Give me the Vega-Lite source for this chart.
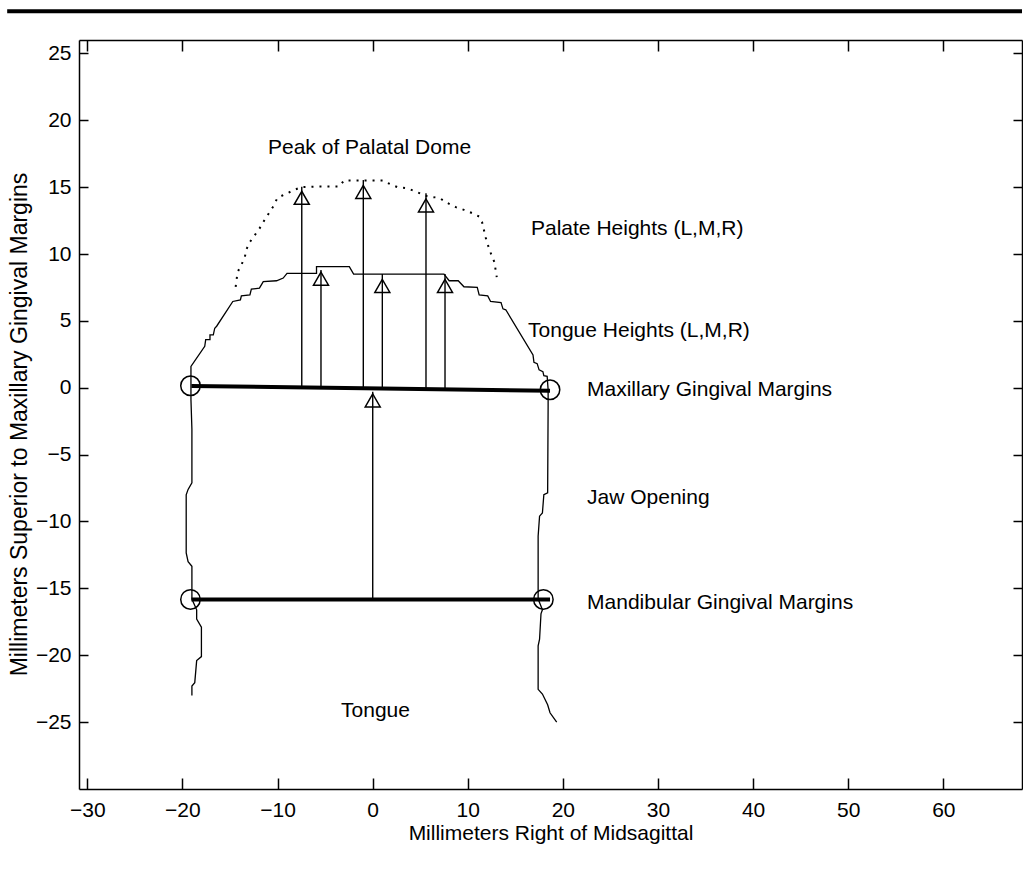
{
  "$schema": "https://vega.github.io/schema/vega-lite/v6.json",
  "width": 943,
  "height": 749,
  "autosize": "none",
  "padding": {"left": 79, "top": 40, "right": 1, "bottom": 81},
  "background": "white",
  "config": {
    "view": {"stroke": null},
    "font": "Liberation Sans",
    "axis": {
      "grid": false,
      "domainColor": "black",
      "domainWidth": 1.5,
      "tickColor": "black",
      "tickWidth": 1.5,
      "labelColor": "black",
      "labelFont": "Liberation Sans",
      "labelFontSize": 21,
      "titleColor": "black",
      "titleFont": "Liberation Sans",
      "titleFontSize": 21,
      "titleFontWeight": "normal",
      "labelFlush": false,
      "labelOverlap": false
    }
  },
  "resolve": {"axis": {"x": "independent", "y": "independent"}},
  "datasets": {
    "contour": [
      {"i": 1, "x": -19.0, "y": -23.0}, {"i": 2, "x": -19.0, "y": -22.3}, {"i": 3, "x": -18.7, "y": -22.05},
      {"i": 4, "x": -18.5, "y": -20.4}, {"i": 5, "x": -18.0, "y": -20.1}, {"i": 6, "x": -18.0, "y": -17.9},
      {"i": 7, "x": -18.5, "y": -17.3}, {"i": 8, "x": -18.5, "y": -16.6}, {"i": 9, "x": -19.0, "y": -15.8},
      {"i": 10, "x": -19.0, "y": -13.35}, {"i": 11, "x": -19.4, "y": -13.0}, {"i": 12, "x": -19.6, "y": -12.35},
      {"i": 13, "x": -19.6, "y": -8.0}, {"i": 14, "x": -19.4, "y": -7.6}, {"i": 15, "x": -19.0, "y": -7.1},
      {"i": 16, "x": -19.0, "y": -3.1}, {"i": 17, "x": -19.1, "y": -0.9}, {"i": 18, "x": -19.1, "y": 0.2},
      {"i": 19, "x": -19.1, "y": 1.6}, {"i": 20, "x": -17.65, "y": 3.1}, {"i": 21, "x": -17.55, "y": 3.6},
      {"i": 22, "x": -17.1, "y": 3.6}, {"i": 23, "x": -17.1, "y": 3.95}, {"i": 24, "x": -16.75, "y": 3.95},
      {"i": 25, "x": -16.6, "y": 4.45}, {"i": 26, "x": -16.4, "y": 4.6}, {"i": 27, "x": -14.7, "y": 6.45},
      {"i": 28, "x": -13.9, "y": 6.57}, {"i": 29, "x": -13.8, "y": 6.87}, {"i": 30, "x": -12.9, "y": 6.95},
      {"i": 31, "x": -12.75, "y": 7.37}, {"i": 32, "x": -11.9, "y": 7.45}, {"i": 33, "x": -11.5, "y": 7.94},
      {"i": 34, "x": -10.1, "y": 8.0}, {"i": 35, "x": -9.4, "y": 8.2}, {"i": 36, "x": -9.0, "y": 8.55},
      {"i": 37, "x": -5.9, "y": 8.55}, {"i": 38, "x": -5.9, "y": 9.05}, {"i": 39, "x": -2.45, "y": 9.05},
      {"i": 40, "x": -2.0, "y": 8.5}, {"i": 41, "x": 7.5, "y": 8.5}, {"i": 42, "x": 8.05, "y": 8.0},
      {"i": 43, "x": 9.0, "y": 8.0}, {"i": 44, "x": 9.6, "y": 7.55}, {"i": 45, "x": 11.0, "y": 7.5},
      {"i": 46, "x": 11.2, "y": 6.95}, {"i": 47, "x": 12.1, "y": 6.87}, {"i": 48, "x": 12.4, "y": 6.45},
      {"i": 49, "x": 13.5, "y": 6.37}, {"i": 50, "x": 13.7, "y": 5.9}, {"i": 51, "x": 14.0, "y": 5.83},
      {"i": 52, "x": 16.86, "y": 2.46}, {"i": 53, "x": 16.96, "y": 1.9}, {"i": 54, "x": 17.3, "y": 1.8},
      {"i": 55, "x": 17.5, "y": 1.34}, {"i": 56, "x": 17.9, "y": 1.2}, {"i": 57, "x": 18.0, "y": 0.9},
      {"i": 58, "x": 18.35, "y": 0.85}, {"i": 59, "x": 18.45, "y": -0.15}, {"i": 60, "x": 18.45, "y": -1.4},
      {"i": 61, "x": 18.4, "y": -7.86}, {"i": 62, "x": 18.0, "y": -8.0}, {"i": 63, "x": 17.85, "y": -9.36},
      {"i": 64, "x": 17.55, "y": -9.6}, {"i": 65, "x": 17.4, "y": -11.1}, {"i": 66, "x": 17.4, "y": -15.1},
      {"i": 67, "x": 17.4, "y": -15.8}, {"i": 68, "x": 17.85, "y": -16.6}, {"i": 69, "x": 17.7, "y": -16.9},
      {"i": 70, "x": 17.55, "y": -18.8}, {"i": 71, "x": 17.4, "y": -19.3}, {"i": 72, "x": 17.4, "y": -22.55},
      {"i": 73, "x": 17.85, "y": -22.9}, {"i": 74, "x": 18.4, "y": -23.7}, {"i": 75, "x": 18.65, "y": -24.3},
      {"i": 76, "x": 19.35, "y": -25.0}
    ],
    "palate": [
      {"i": 1, "x": -14.4, "y": 7.55}, {"i": 2, "x": -14.2, "y": 8.64}, {"i": 3, "x": -13.8, "y": 9.2},
      {"i": 4, "x": -13.45, "y": 9.7}, {"i": 5, "x": -13.3, "y": 10.3}, {"i": 6, "x": -12.9, "y": 10.9},
      {"i": 7, "x": -12.4, "y": 11.4}, {"i": 8, "x": -11.9, "y": 11.9}, {"i": 9, "x": -11.4, "y": 12.5},
      {"i": 10, "x": -10.5, "y": 13.5}, {"i": 11, "x": -10.0, "y": 14.2}, {"i": 12, "x": -8.2, "y": 14.8},
      {"i": 13, "x": -7.5, "y": 15.0}, {"i": 14, "x": -5.6, "y": 15.05}, {"i": 15, "x": -3.5, "y": 15.05},
      {"i": 16, "x": -3.0, "y": 15.5}, {"i": 17, "x": 0.0, "y": 15.5}, {"i": 18, "x": 1.05, "y": 15.5},
      {"i": 19, "x": 1.9, "y": 15.2}, {"i": 20, "x": 2.6, "y": 15.0}, {"i": 21, "x": 3.7, "y": 14.9},
      {"i": 22, "x": 5.8, "y": 14.3}, {"i": 23, "x": 7.0, "y": 14.2}, {"i": 24, "x": 7.9, "y": 13.8},
      {"i": 25, "x": 8.75, "y": 13.5}, {"i": 26, "x": 9.6, "y": 13.3}, {"i": 27, "x": 10.5, "y": 13.05},
      {"i": 28, "x": 11.2, "y": 12.8}, {"i": 29, "x": 11.5, "y": 12.4}, {"i": 30, "x": 11.7, "y": 11.8},
      {"i": 31, "x": 11.9, "y": 11.2}, {"i": 32, "x": 12.2, "y": 10.5}, {"i": 33, "x": 12.5, "y": 9.9},
      {"i": 34, "x": 12.8, "y": 9.4}, {"i": 35, "x": 12.9, "y": 8.94}, {"i": 36, "x": 13.05, "y": 8.27}
    ],
    "margins": [
      {"name": "Maxillary", "x": -19.05, "y": 0.13, "x2": 18.65, "y2": -0.22},
      {"name": "Mandibular", "x": -19.05, "y": -15.83, "x2": 18.65, "y2": -15.83}
    ],
    "stems": [
      {"name": "Palate L", "x": -7.45, "y": 0.1, "y2": 15.03},
      {"name": "Palate M", "x": -0.98, "y": 0.05, "y2": 15.53},
      {"name": "Palate R", "x": 5.61, "y": -0.05, "y2": 14.54},
      {"name": "Tongue L", "x": -5.43, "y": 0.05, "y2": 8.8},
      {"name": "Tongue M", "x": 1.02, "y": 0.0, "y2": 8.5},
      {"name": "Tongue R", "x": 7.61, "y": -0.1, "y2": 8.5},
      {"name": "Jaw", "x": 0.01, "y": -15.83, "y2": -0.3}
    ],
    "triangles": [
      {"name": "Palate L", "x": -7.45, "y": 14.2},
      {"name": "Palate M", "x": -0.98, "y": 14.64},
      {"name": "Palate R", "x": 5.61, "y": 13.63},
      {"name": "Tongue L", "x": -5.43, "y": 8.15},
      {"name": "Tongue M", "x": 1.02, "y": 7.61},
      {"name": "Tongue R", "x": 7.61, "y": 7.61},
      {"name": "Jaw", "x": 0.01, "y": -0.95}
    ],
    "circles": [
      {"x": -19.15, "y": 0.15}, {"x": 18.65, "y": -0.15},
      {"x": -19.15, "y": -15.83}, {"x": 17.95, "y": -15.83}
    ],
    "labels": [
      {"text": "Peak of Palatal Dome", "x": -11.0, "y": 17.93},
      {"text": "Palate Heights (L,M,R)", "x": 16.65, "y": 11.85},
      {"text": "Tongue Heights (L,M,R)", "x": 16.34, "y": 4.24},
      {"text": "Maxillary Gingival Margins", "x": 22.54, "y": -0.17},
      {"text": "Jaw Opening", "x": 22.54, "y": -8.24},
      {"text": "Mandibular Gingival Margins", "x": 22.54, "y": -16.09},
      {"text": "Tongue", "x": -3.32, "y": -24.17}
    ],
    "header": [
      {"x": -38.42, "x2": 68.27, "y": 28.15}
    ]
  },
  "layer": [
    {
      "data": {"name": "contour"},
      "mark": {"type": "line", "stroke": "black", "strokeWidth": 1.3},
      "encoding": {
        "x": {"field": "x", "type": "quantitative",
          "scale": {"domain": [-30.87, 68.27], "nice": false, "zero": false},
          "axis": {"orient": "bottom", "values": [-30, -20, -10, 0, 10, 20, 30, 40, 50, 60],
            "tickSize": -11, "labelPadding": 21, "title": "Millimeters Right of Midsagittal",
            "titleY": 44, "titleBaseline": "middle"}},
        "y": {"field": "y", "type": "quantitative",
          "scale": {"domain": [-30, 26], "nice": false, "zero": false},
          "axis": {"orient": "left", "values": [-25, -20, -15, -10, -5, 0, 5, 10, 15, 20, 25],
            "tickSize": -9, "labelPadding": 17, "title": "Millimeters Superior to Maxillary Gingival Margins",
            "titleFontSize": 23, "titleX": -60, "titleY": 384, "titleAngle": -90,
            "titleAlign": "center", "titleBaseline": "middle"}},
        "order": {"field": "i", "type": "quantitative"}
      }
    },
    {
      "data": {"name": "palate"},
      "mark": {"type": "line", "stroke": "black", "strokeWidth": 2, "strokeDash": [2, 6]},
      "encoding": {
        "x": {"field": "x", "type": "quantitative",
          "axis": {"orient": "top", "values": [-30, -20, -10, 0, 10, 20, 30, 40, 50, 60],
            "tickSize": -11, "labels": false, "title": null}},
        "y": {"field": "y", "type": "quantitative",
          "axis": {"orient": "right", "values": [-25, -20, -15, -10, -5, 0, 5, 10, 15, 20, 25],
            "tickSize": -9, "labels": false, "title": null}},
        "order": {"field": "i", "type": "quantitative"}
      }
    },
    {
      "data": {"name": "stems"},
      "mark": {"type": "rule", "stroke": "black", "strokeWidth": 1.4},
      "encoding": {
        "x": {"field": "x", "type": "quantitative", "axis": null},
        "y": {"field": "y", "type": "quantitative", "axis": null},
        "y2": {"field": "y2"}
      }
    },
    {
      "data": {"name": "margins"},
      "mark": {"type": "rule", "stroke": "black", "strokeWidth": 4},
      "encoding": {
        "x": {"field": "x", "type": "quantitative", "axis": null},
        "y": {"field": "y", "type": "quantitative", "axis": null},
        "x2": {"field": "x2"},
        "y2": {"field": "y2"}
      }
    },
    {
      "data": {"name": "triangles"},
      "mark": {"type": "point", "shape": "triangle-up", "size": 225, "filled": false, "stroke": "black", "strokeWidth": 1.5, "opacity": 1},
      "encoding": {
        "x": {"field": "x", "type": "quantitative", "axis": null},
        "y": {"field": "y", "type": "quantitative", "axis": null}
      }
    },
    {
      "data": {"name": "circles"},
      "mark": {"type": "point", "shape": "circle", "size": 380, "filled": false, "stroke": "black", "strokeWidth": 1.5, "opacity": 1},
      "encoding": {
        "x": {"field": "x", "type": "quantitative", "axis": null},
        "y": {"field": "y", "type": "quantitative", "axis": null}
      }
    },
    {
      "data": {"name": "labels"},
      "mark": {"type": "text", "align": "left", "baseline": "middle", "fontSize": 21, "font": "Liberation Sans", "color": "black"},
      "encoding": {
        "x": {"field": "x", "type": "quantitative", "axis": null},
        "y": {"field": "y", "type": "quantitative", "axis": null},
        "text": {"field": "text"}
      }
    },
    {
      "data": {"name": "header"},
      "mark": {"type": "rule", "stroke": "black", "strokeWidth": 4, "clip": false},
      "encoding": {
        "x": {"field": "x", "type": "quantitative", "axis": null},
        "x2": {"field": "x2"},
        "y": {"field": "y", "type": "quantitative", "axis": null}
      }
    }
  ]
}
